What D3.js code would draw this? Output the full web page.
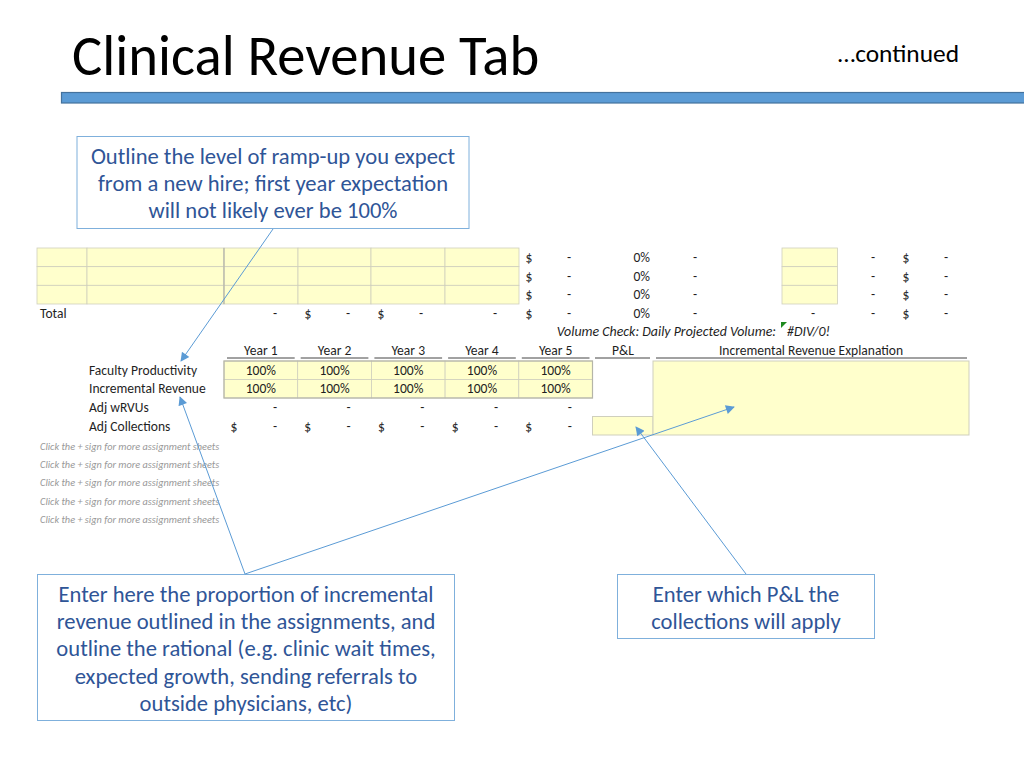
<!DOCTYPE html>
<html><head><meta charset="utf-8">
<script src="https://cdn.jsdelivr.net/npm/d3@7/dist/d3.min.js"></script>
<style>html,body{margin:0;padding:0;background:#fff}svg{display:block}text{font-family:Carlito,Lato,"Open Sans",sans-serif}</style>
</head><body><svg id="c" width="1024" height="768"></svg>
<script>
const titleText = "Clinical Revenue Tab";
const subtitleText = "…continued";
const years = ["Year 1","Year 2","Year 3","Year 4","Year 5"];
const upperRows = [0,1,2];
const sideLabels = ["Faculty Productivity","Incremental Revenue","Adj wRVUs","Adj Collections"];
const rampFaculty = ["100%","100%","100%","100%","100%"];
const rampRevenue = ["100%","100%","100%","100%","100%"];
const pctValues = ["0%","0%","0%","0%"];
const plHeader = "P&L";
const explainHeader = "Incremental Revenue Explanation";
const volumeLabel = "Volume Check: Daily Projected Volume:";
const volumeValue = "#DIV/0!";
const hintText = "Click the + sign for more assignment sheets";
const hintRows = [10,11,12,13,14];
const callout1 = ["Outline the level of ramp-up you expect","from a new hire; first year expectation","will not likely ever be 100%"];
const callout2 = ["Enter here the proportion of incremental","revenue outlined in the assignments, and","outline the rational (e.g. clinic wait times,","expected growth, sending referrals to","outside physicians, etc)"];
const callout3 = ["Enter which P&L the","collections will apply"];

const svg = d3.select("#c");
const INK="#1f1f1f", BLUE="#5b9bd5", TXT="#2f5597", YEL="#ffffcc", GRID="#cfcfbd";

// row centre scale, column scale (piecewise spreadsheet geometry)
const y = d3.scaleLinear().domain([0,5,6,9,10,14]).range([257.5,350,370,426,446,519.5]);
const edge = d3.scaleLinear().domain([0,3,4,7]).range([248,304,361,435]);
const yearX = d3.scaleBand().domain(d3.range(5)).range([224,592.5]);
const firstCols = [37,87,224,298,371,445,519];

function t(x,yy,s,o={}){
  return svg.append("text").attr("x",x).attr("y",yy).text(s)
    .attr("font-size",o.size||13.55).attr("fill",o.fill||INK)
    .attr("text-anchor",o.anchor||"start").attr("font-style",o.style||"normal");
}
const cell=(x,r,s,o={})=>t(x,y(r)+4.6,s,o);

// Title and rule
t(72,74.5,titleText,{size:56.7,fill:"#000"});
t(959,62,subtitleText,{size:25.4,fill:"#000",anchor:"end"});
svg.append("rect").attr("x",61.5).attr("y",92.5).attr("width",970).attr("height",10.5)
  .attr("fill",BLUE).attr("stroke","#44729d").attr("stroke-width",1.2);

// Yellow input block, top
d3.pairs(firstCols).forEach(([a,b])=>upperRows.forEach(r=>{
  svg.append("rect").attr("x",a).attr("y",edge(r)).attr("width",b-a).attr("height",edge(r+1)-edge(r))
    .attr("fill",YEL).attr("stroke",GRID).attr("stroke-width",.8);
}));
svg.append("line").attr("x1",224).attr("x2",224).attr("y1",edge(0)).attr("y2",edge(3)).attr("stroke","#b5b5a8").attr("stroke-width",1.2);
upperRows.forEach(r=>svg.append("rect").attr("x",782).attr("y",edge(r)).attr("width",55.5).attr("height",edge(r+1)-edge(r))
    .attr("fill",YEL).attr("stroke",GRID).attr("stroke-width",.8));

// Right-hand value columns
pctValues.forEach((p,r)=>{
  cell(529,r,"$",{anchor:"middle"});
  cell(569,r,"-",{anchor:"middle"});
  cell(650,r,p,{anchor:"end"});
  cell(695,r,"-",{anchor:"middle"});
  cell(873,r,"-",{anchor:"middle"});
  cell(906,r,"$",{anchor:"middle"});
  cell(946,r,"-",{anchor:"middle"});
});
// Total row
cell(40,3,"Total");
cell(275,3,"-",{anchor:"middle"});
cell(308,3,"$",{anchor:"middle"});
cell(348,3,"-",{anchor:"middle"});
cell(381,3,"$",{anchor:"middle"});
cell(421,3,"-",{anchor:"middle"});
cell(495,3,"-",{anchor:"middle"});
cell(813,3,"-",{anchor:"middle"});

// Volume check
cell(776,4,volumeLabel,{anchor:"end",style:"italic",size:13.9});
svg.append("path").attr("d",d3.line()([[781,322],[787,322],[781,328]])+"Z").attr("fill","#1e8a1e");
cell(787,4,volumeValue,{style:"italic",size:13.9});

// Headers
years.forEach((s,i)=>{
  const x0=yearX(i), w=yearX.bandwidth();
  cell(x0+w/2,5,s,{anchor:"middle"});
  svg.append("line").attr("x1",x0+3).attr("x2",x0+w-3).attr("y1",358).attr("y2",358).attr("stroke","#444");
});
cell(623,5,plHeader,{anchor:"middle"});
svg.append("line").attr("x1",595).attr("x2",650).attr("y1",358).attr("y2",358).attr("stroke","#444");
cell(811,5,explainHeader,{anchor:"middle"});
svg.append("line").attr("x1",656).attr("x2",967).attr("y1",358).attr("y2",358).attr("stroke","#444");

// Side labels
sideLabels.forEach((s,i)=>cell(89,6+i,s));

// Ramp grid
[rampFaculty,rampRevenue].forEach((vals,ri)=>vals.forEach((v,i)=>{
  const yy=edge(4)+ri*18.5;
  svg.append("rect").attr("x",yearX(i)).attr("y",yy).attr("width",yearX.bandwidth()).attr("height",18.5)
    .attr("fill",YEL).attr("stroke",GRID).attr("stroke-width",.8);
  cell(yearX(i)+yearX.bandwidth()/2,6+ri,v,{anchor:"middle"});
}));
svg.append("rect").attr("x",yearX(0)).attr("y",edge(4)).attr("width",368.5).attr("height",37)
  .attr("fill","none").attr("stroke","#b5b5a8").attr("stroke-width",1.2);

// Adjusted rows
years.forEach((_,i)=>{
  const x0=yearX(i);
  cell(x0+51,8,"-",{anchor:"middle"});
  cell(x0+10,9,"$",{anchor:"middle"});
  cell(x0+51,9,"-",{anchor:"middle"});
});

// P&L and explanation inputs
svg.append("rect").attr("x",592.5).attr("y",416.5).attr("width",60.5).attr("height",18.5).attr("fill",YEL).attr("stroke",GRID);
svg.append("rect").attr("x",653).attr("y",361).attr("width",316).attr("height",74).attr("fill",YEL).attr("stroke",GRID);

// Hints
hintRows.forEach(r=>t(40,y(r)+3.5,hintText,{size:10.3,fill:"#999",style:"italic"}));

// Callouts
function callout(x,yy,w,h,lines){
  svg.append("rect").attr("x",x).attr("y",yy).attr("width",w).attr("height",h)
    .attr("fill","#fff").attr("stroke","#7fb0dc").attr("stroke-width",1);
  lines.forEach((s,i)=>t(x+w/2,yy+27+i*27.4,s,{size:22.6,fill:TXT,anchor:"middle"}));
}
callout(77,136.5,392,92,callout1);
callout(37.5,574.5,417,146,callout2);
callout(617.5,574.5,257,64,callout3);

// Arrows
svg.append("defs").append("marker").attr("id","ah").attr("viewBox","0 0 10 10").attr("refX",9).attr("refY",5)
  .attr("markerUnits","userSpaceOnUse").attr("markerWidth",10).attr("markerHeight",9).attr("orient","auto")
  .append("path").attr("d","M0,0L10,5L0,10Z").attr("fill",BLUE);
function arrow(a,b){
  svg.append("line").attr("x1",a[0]).attr("y1",a[1]).attr("x2",b[0]).attr("y2",b[1])
    .attr("stroke",BLUE).attr("stroke-width",1).attr("marker-end","url(#ah)");
}
arrow([273,229],[181,361]);
arrow([245,574],[180,397]);
arrow([245,574],[734,407]);
arrow([746,574],[636,427]);
</script></body></html>
